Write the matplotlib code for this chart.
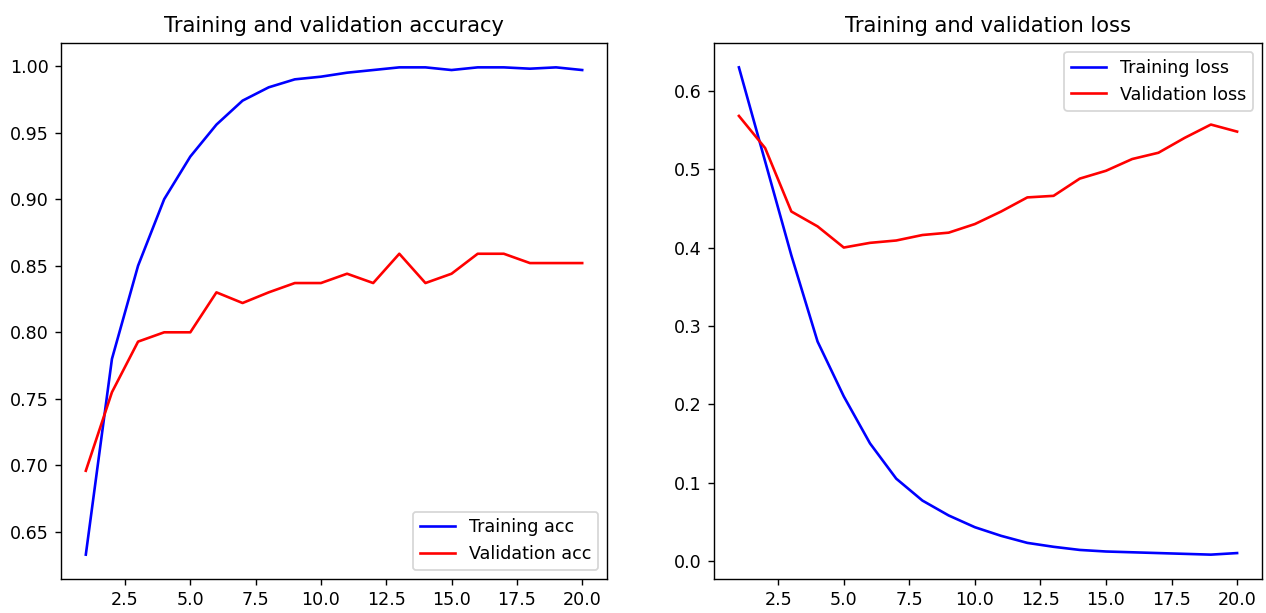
import matplotlib
matplotlib.use("Agg")
import matplotlib.pyplot as plt

epochs = list(range(1, 21))
train_acc = [0.633, 0.780, 0.850, 0.900, 0.932, 0.956, 0.974, 0.984, 0.990, 0.992,
             0.995, 0.997, 0.999, 0.999, 0.997, 0.999, 0.999, 0.998, 0.999, 0.997]
val_acc = [0.696, 0.755, 0.793, 0.800, 0.800, 0.830, 0.822, 0.830, 0.837, 0.837,
           0.844, 0.837, 0.859, 0.837, 0.844, 0.859, 0.859, 0.852, 0.852, 0.852]
train_loss = [0.630, 0.510, 0.390, 0.280, 0.210, 0.150, 0.105, 0.077, 0.058, 0.043,
              0.032, 0.023, 0.018, 0.014, 0.012, 0.011, 0.010, 0.009, 0.008, 0.010]
val_loss = [0.568, 0.527, 0.446, 0.427, 0.400, 0.406, 0.409, 0.416, 0.419, 0.430,
            0.446, 0.464, 0.466, 0.488, 0.498, 0.513, 0.521, 0.540, 0.557, 0.548]

fig = plt.figure(figsize=(1266 / 126, 613 / 126), dpi=126)
ax1 = fig.add_axes([61 / 1266, 1 - 579 / 613, 546 / 1266, 536 / 613])
ax2 = fig.add_axes([714 / 1266, 1 - 579 / 613, 548 / 1266, 536 / 613])

ax1.plot(epochs, train_acc, 'b', label='Training acc')
ax1.plot(epochs, val_acc, 'r', label='Validation acc')
ax1.set_title('Training and validation accuracy')
ax1.legend(loc='lower right')

ax2.plot(epochs, train_loss, 'b', label='Training loss')
ax2.plot(epochs, val_loss, 'r', label='Validation loss')
ax2.set_title('Training and validation loss')
ax2.legend(loc='upper right')

fig.savefig('out.png', dpi=126)
